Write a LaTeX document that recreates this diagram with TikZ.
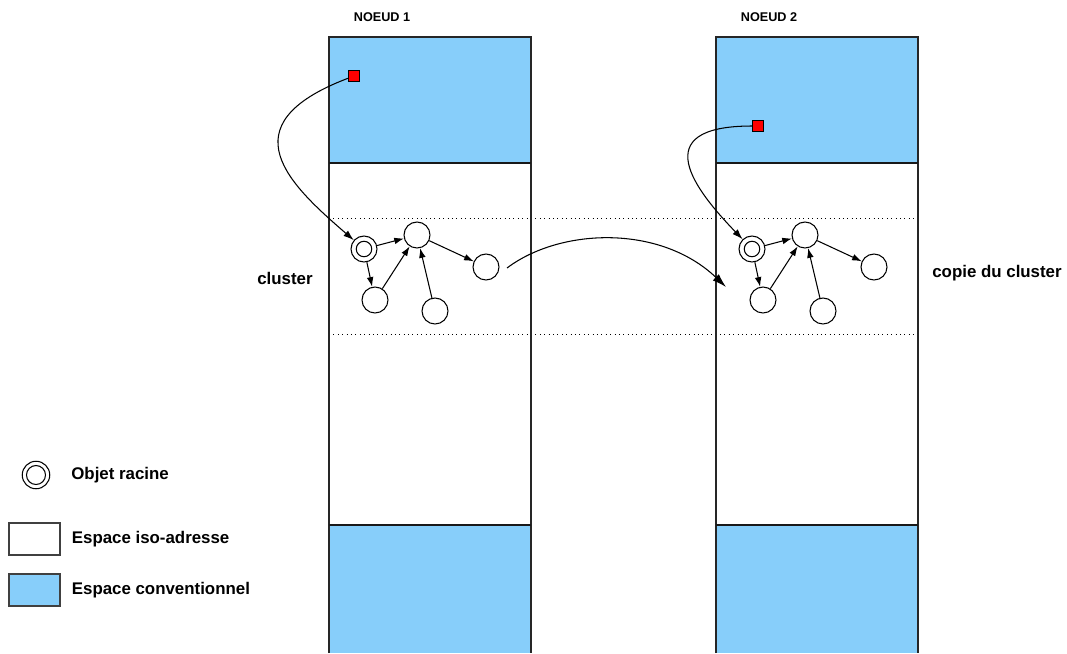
\documentclass[tikz,border=0pt]{standalone}
\usepackage{fontspec}
\setmainfont{Liberation Sans}
\usetikzlibrary{positioning}
\usetikzlibrary{arrows.meta}

\definecolor{conv}{HTML}{87CEFA}

\begin{document}
\begin{tikzpicture}[x=0.02cm,y=-0.02cm,
	font=\fontsize{9.6}{11}\selectfont\bfseries,
	obj/.style={circle,draw,line width=0.6pt,minimum size=0.52cm,inner sep=0pt},
	racine/.style={obj,path picture={\draw[line width=0.6pt] (path picture bounding box.center) circle (0.155cm);}},
	ptr/.style={rectangle,draw,fill=red,line width=0.5pt,minimum size=0.22cm,inner sep=0pt},
	lien/.style={-{Latex[length=5.5pt,width=3.8pt]},line width=0.6pt},
	txt/.style={inner sep=0pt}]
			\useasboundingbox (0,0) rectangle (1067,653);
			
			% zones des deux noeuds
			\fill[conv] (329,37) rectangle (531,163);
			\fill[conv] (329,525) rectangle (531,653);
			\fill[conv] (716,37) rectangle (918,163);
			\fill[conv] (716,525) rectangle (918,653);
			\draw[dotted,line width=0.5pt] (329,218) -- (918,218) (329,334) -- (918,334);
			\draw[black!85,line width=0.6pt] (329,653) -- (329,37) -- (531,37) -- (531,653);
			\draw[black!85,line width=0.6pt] (716,653) -- (716,37) -- (918,37) -- (918,653);
			\draw[black!90,line width=0.7pt] (329,163) -- (531,163) (329,525) -- (531,525);
			\draw[black!90,line width=0.7pt] (716,163) -- (918,163) (716,525) -- (918,525);
			
			\node[txt] (n1) at (382,17) {\fontsize{7.2}{8}\selectfont NOEUD 1};
			\node[txt] (n2) at (769,17) {\fontsize{7.2}{8}\selectfont NOEUD 2};
			
			% cluster
			\node[racine] (r1) at (364,249) {};
			\node[obj] (a1) at (417,235) {};
			\node[obj] (b1) at (486,267) {};
			\node[obj] (c1) at (375,300) {};
			\node[obj] (d1) at (435,311) {};
			\draw[lien] (r1) -- (a1);
			\draw[lien] (r1) -- (c1);
			\draw[lien] (c1) -- (a1);
			\draw[lien] (d1) -- (a1);
			\draw[lien] (a1) -- (b1);
			
			% copie
			\node[racine] (r2) at (752,249) {};
			\node[obj] (a2) at (805,235) {};
			\node[obj] (b2) at (874,267) {};
			\node[obj] (c2) at (763,300) {};
			\node[obj] (d2) at (823,311) {};
			\draw[lien] (r2) -- (a2);
			\draw[lien] (r2) -- (c2);
			\draw[lien] (c2) -- (a2);
			\draw[lien] (d2) -- (a2);
			\draw[lien] (a2) -- (b2);
			
			\node[ptr] (p1) at (354,76) {};
			\node[ptr] (p2) at (758,126) {};
			\draw[-{Latex[length=6pt,width=4pt]},line width=0.6pt] (p1) .. controls (225,125) and (290,185) .. (r1);
			\draw[-{Latex[length=6pt,width=4pt]},line width=0.6pt] (p2) .. controls (645,126) and (695,190) .. (r2);
			
			\coordinate (cp0) at (507,268);
			\coordinate (cp1) at (726,287);
			\draw[-{Latex[length=8pt,width=5pt]},line width=0.6pt] (cp0) .. controls (560,228) and (660,224) .. (cp1);
			
			\node[txt] (lc1) at (285,278) {cluster};
			\node[txt] (lc2) at (997,273) {copie du cluster};
			
			% legende
			\node[circle,draw,line width=0.6pt,minimum size=0.55cm,inner sep=0pt,
				path picture={\draw[line width=0.6pt] (path picture bounding box.center) circle (0.19cm);}] (lr) at (36,475) {};
			\node[draw,black!75,line width=0.6pt,minimum width=1.02cm,minimum height=0.64cm,inner sep=0pt] (li) at (34.5,539) {};
			\node[draw,black!75,fill=conv,line width=0.6pt,minimum width=1.02cm,minimum height=0.64cm,inner sep=0pt] (lb) at (34.5,590) {};
			\node[txt,anchor=west] (tr) at (71,475) {Objet racine};
			\node[txt] (ti) [right=0.22cm of li] {Espace iso-adresse};
			\node[txt] (tb) [right=0.22cm of lb] {Espace conventionnel};
\end{tikzpicture}
\end{document}
